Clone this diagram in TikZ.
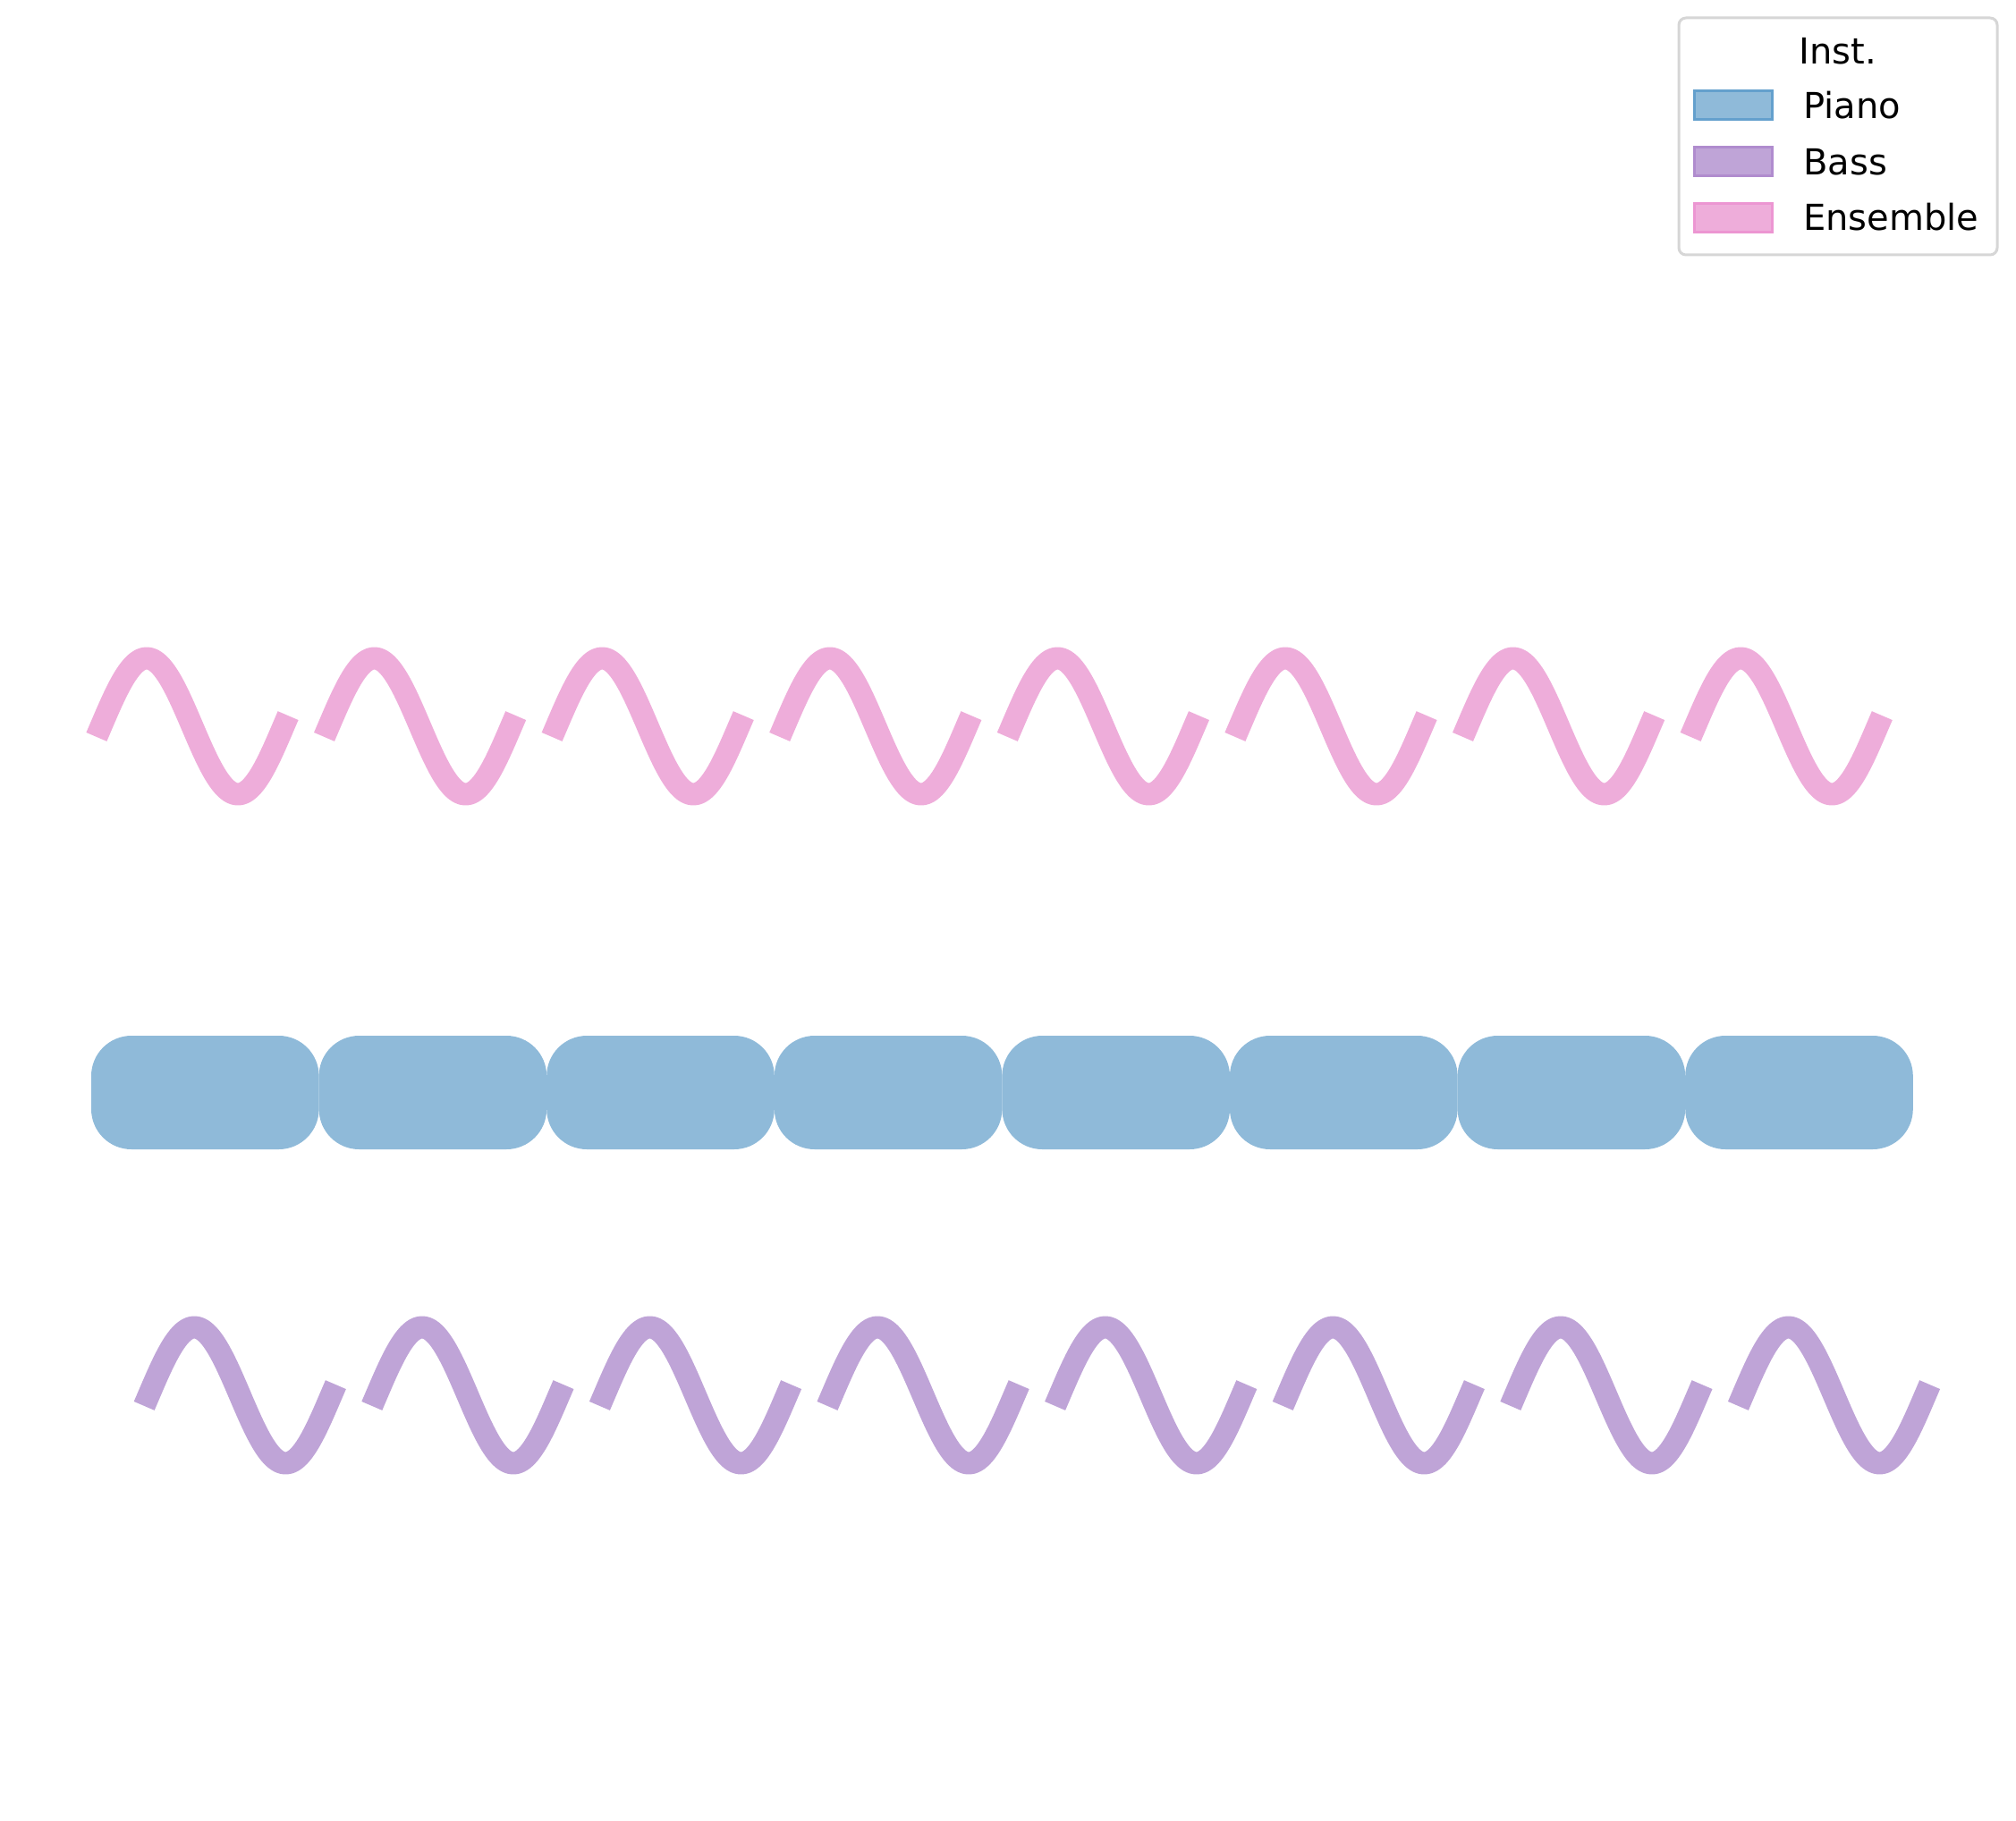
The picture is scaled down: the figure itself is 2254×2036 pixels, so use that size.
\documentclass[tikz,border=0pt]{standalone}
\usepackage{fontspec}
\setmainfont{DejaVu Sans}
\definecolor{pianoC}{RGB}{143,186,217}
\definecolor{bassC}{RGB}{191,164,215}
\definecolor{ensC}{RGB}{238,173,218}
\definecolor{pianoE}{RGB}{100,160,205}
\definecolor{bassE}{RGB}{176,140,206}
\definecolor{ensE}{RGB}{236,150,210}
\definecolor{frameC}{RGB}{214,214,214}
\tikzset{
  pianobox/.style={fill=pianoC, draw=none, rounded corners=45pt},
  enswave/.style={draw=ensC, line width=25pt, line cap=butt, line join=round},
  basswave/.style={draw=bassC, line width=25pt, line cap=butt, line join=round},
  legframe/.style={draw=frameC, fill=white, line width=3pt, rounded corners=8pt},
  legtext/.style={font=\fontsize{40}{48}\selectfont, inner sep=0pt},
  legpatch/.style={line width=3pt}
}
\begin{document}
\begin{tikzpicture}[x=1pt,y=-1pt]
\useasboundingbox (0,0) rectangle (2254,2036);
% Ensemble waves
\foreach \i in {0,...,7}{
  \draw[enswave] plot[domain=-9:369, samples=90, smooth] ({113+254.6*\i+\x/360*204},{812-76*sin(\x)});
}
% Piano boxes
\foreach \i in {0,...,7}{
  \fill[pianobox] ({102+254.6*\i},1158) rectangle ({102+254.6*\i+254.6},1285);
}
% Bass waves
\foreach \i in {0,...,7}{
  \draw[basswave] plot[domain=-9:369, samples=90, smooth] ({166.3+254.6*\i+\x/360*204},{1560-76*sin(\x)});
}
% Legend
\draw[legframe] (1877,20) rectangle (2233,285);
\node[legtext, anchor=base] (title) at (2055,72) {Inst.};
\draw[legpatch, fill=pianoC, draw=pianoE] (1894,102) rectangle (1981,134);
\draw[legpatch, fill=bassC, draw=bassE] (1894,165) rectangle (1981,197);
\draw[legpatch, fill=ensC, draw=ensE] (1894,228) rectangle (1981,260);
\node[legtext, anchor=base west] (lp) at (2016,133) {Piano};
\node[legtext, anchor=base west] (lb) at (2016,196) {Bass};
\node[legtext, anchor=base west] (le) at (2016,258) {Ensemble};
\end{tikzpicture}
\end{document}
